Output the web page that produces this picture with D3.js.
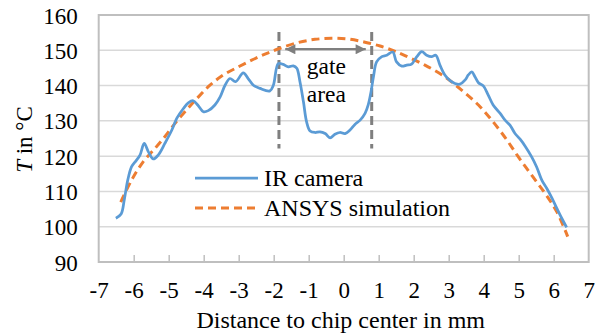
<!DOCTYPE html>
<html>
<head>
<meta charset="utf-8">
<script src="https://cdn.jsdelivr.net/npm/d3@7"></script>
<style>
  html, body { margin: 0; padding: 0; background: #fff; }
  svg { display: block; }
</style>
</head>
<body>
<svg id="chart" width="605" height="335"></svg>
<script>
// Measured temperature profile (IR camera) along the chip, mm vs °C
const irX = [-6.51, -6.36, -6.27, -6.17, -6.06, -5.94, -5.82, -5.70, -5.58, -5.44, -5.30, -5.11, -4.91, -4.77,
  -4.58, -4.44, -4.30, -4.17, -4.01, -3.87, -3.68, -3.53, -3.39, -3.25, -3.09, -2.87, -2.73, -2.58,
  -2.39, -2.11, -2.01, -1.87, -1.73, -1.58, -1.44, -1.34, -1.25, -1.15, -1.06, -0.96, -0.82, -0.68,
  -0.53, -0.39, -0.25, -0.11, 0.04, 0.18, 0.32, 0.47, 0.61, 0.70, 0.78, 0.85, 0.94, 1.09, 1.23,
  1.40, 1.51, 1.66, 1.80, 1.94, 2.09, 2.23, 2.37, 2.51, 2.63, 2.75, 2.89, 3.04, 3.18, 3.32, 3.47,
  3.56, 3.66, 3.75, 3.85, 3.99, 4.13, 4.27, 4.47, 4.61, 4.75, 4.89, 5.04, 5.18, 5.37, 5.51, 5.66,
  5.80, 5.94, 6.09, 6.23, 6.37];
const irT = [102.4, 103.6, 107.6, 113.2, 117.0, 118.6, 120.3, 123.6, 121.2, 119.2, 120.3, 123.6, 127.4, 130.7,
  133.5, 135.1, 135.7, 134.5, 132.6, 132.9, 134.5, 136.8, 140.1, 142.0, 141.1, 143.6, 142.0, 140.1,
  139.2, 138.5, 140.1, 146.2, 146.0, 145.3, 145.6, 144.9, 141.1, 135.4, 129.7, 127.1, 126.7, 126.9,
  126.4, 125.2, 126.2, 126.7, 126.4, 127.4, 129.0, 130.2, 132.1, 134.5, 138.2, 142.5, 146.7, 148.2, 148.6,
  149.5, 146.7, 145.5, 145.8, 146.1, 148.2, 149.6, 148.6, 148.2, 148.6, 145.8, 143.0, 141.4, 140.6, 140.4, 141.6,
  143.0, 143.9, 142.5, 140.8, 139.9, 137.3, 134.5, 132.1, 130.2, 128.8, 126.5, 124.8, 122.9, 119.8, 117.0, 113.2,
  110.9, 108.3, 105.2, 102.4, 99.8];

// Simulated temperature profile (ANSYS)
const simX = [-6.37, -6.06, -5.73, -5.39, -5.11, -4.82, -4.49, -4.15, -3.82, -3.44, -3.01, -2.63, -2.25,
  -1.84, -1.30, -0.82, -0.34, 0.13, 0.61, 1.04, 1.42, 1.75, 2.32, 2.89, 3.37, 3.85, 4.27, 4.66,
  4.99, 5.37, 5.75, 6.09, 6.40];
const simT = [107.0, 113.2, 118.4, 122.2, 125.5, 129.3, 133.1, 136.8, 140.1, 143.0, 145.3, 147.2, 148.9,
  150.5, 152.2, 153.1, 153.4, 153.2, 152.3, 151.2, 149.9, 148.5, 145.8, 142.5, 138.7, 134.5, 129.7, 124.6,
  119.8, 114.6, 109.5, 104.2, 97.2];

// Axis ticks and labels
const xTicks = [-7, -6, -5, -4, -3, -2, -1, 0, 1, 2, 3, 4, 5, 6, 7];
const yTicks = [90, 100, 110, 120, 130, 140, 150, 160];
const seriesNames = ["IR camera", "ANSYS simulation"];
const xTitle = "Distance to chip center in mm";

// Gate region: boundaries (mm), marker span (°C), arrow ends (mm) and level (°C)
const gateBounds = [-1.85, 0.80];
const gateSpan = [122.2, 155.2];
const gateArrow = [-1.67, 0.63];
const gateArrowT = 150.3;
const gateLabel = ["gate", "area"];

const serif = "Liberation Serif";
const tickSize = 23, labelSize = 24;
const svg = d3.select("#chart");
const plotL = 98.7, plotR = 588.7, plotT = 15, plotB = 262;

const x = d3.scaleLinear().domain([-7, 7]).range([plotL, plotR]);
const y = d3.scaleLinear().domain([90, 160]).range([plotB, plotT]);

// horizontal gridlines
svg.append("g")
  .selectAll("line")
  .data(yTicks.filter(d => d > 90 && d < 160))
  .join("line")
  .attr("x1", plotL).attr("x2", plotR)
  .attr("y1", d => y(d)).attr("y2", d => y(d))
  .attr("stroke", "#d9d9d9").attr("stroke-width", 1.5);

// plot frame
svg.append("rect")
  .attr("x", plotL).attr("y", plotT)
  .attr("width", plotR - plotL).attr("height", plotB - plotT)
  .attr("fill", "none").attr("stroke", "#bfbfbf").attr("stroke-width", 2);

// x axis: inward ticks, labels below
const xAxis = d3.axisBottom(x).tickValues(xTicks).tickSize(-7).tickPadding(0).tickFormat(d3.format("d"));
const gx = svg.append("g").attr("transform", `translate(0,${plotB})`).call(xAxis)
  .attr("font-family", serif).attr("font-size", tickSize);
gx.select(".domain").remove();
gx.selectAll(".tick line").attr("stroke", "#bfbfbf").attr("stroke-width", 1.5);
gx.selectAll(".tick").filter(d => d === -7 || d === 7).select("line").remove();
gx.selectAll(".tick text")
  .attr("y", 36).attr("dy", null)
  .attr("fill", "#000")
  .text(d => d < 0 ? "-" + Math.abs(d) : String(d));

// y axis labels
const yAxis = d3.axisLeft(y).tickValues(yTicks).tickSize(0).tickPadding(0).tickFormat(d3.format("d"));
const gy = svg.append("g").attr("transform", `translate(${plotL - 21},0)`).call(yAxis)
  .attr("font-family", serif).attr("font-size", tickSize);
gy.select(".domain").remove();
gy.selectAll(".tick text")
  .attr("dy", "0.35em")
  .attr("fill", "#000");

// axis titles
svg.append("text")
  .attr("x", (plotL + plotR) / 2 - 3).attr("y", 328)
  .attr("text-anchor", "middle")
  .attr("font-family", serif).attr("font-size", labelSize)
  .text(xTitle);

const yTitle = svg.append("text")
  .attr("transform", `translate(32,${(plotT + plotB) / 2 + 1}) rotate(-90)`)
  .attr("text-anchor", "middle")
  .attr("font-family", serif).attr("font-size", tickSize);
yTitle.append("tspan").attr("font-style", "italic").text("T");
yTitle.append("tspan").text(" in °C");

// series as [x, T] pairs
const simData = simX.map((v, i) => [v, simT[i]]);
const irData = irX.map((v, i) => [v, irT[i]]);
const line = d3.line().x(d => x(d[0])).y(d => y(d[1])).curve(d3.curveCatmullRom.alpha(0.5));

// gate boundary markers
svg.append("g")
  .selectAll("line")
  .data(gateBounds)
  .join("line")
  .attr("x1", d => x(d)).attr("x2", d => x(d))
  .attr("y1", y(gateSpan[1])).attr("y2", y(gateSpan[0]))
  .attr("stroke", "#7f7f7f").attr("stroke-width", 3)
  .attr("stroke-dasharray", "9,5");

// simulated curve
svg.append("path")
  .datum(simData)
  .attr("d", line)
  .attr("fill", "none")
  .attr("stroke", "#ed7d31").attr("stroke-width", 3)
  .attr("stroke-dasharray", "8,5");

// measured curve
svg.append("path")
  .datum(irData)
  .attr("d", line)
  .attr("fill", "none")
  .attr("stroke", "#5b9bd5").attr("stroke-width", 2.75)
  .attr("stroke-linejoin", "round");

// double-headed arrow across the gate
const defs = svg.append("defs");
defs.append("marker")
  .attr("id", "arrowHead")
  .attr("viewBox", "0 0 10 10")
  .attr("refX", 10).attr("refY", 5)
  .attr("markerWidth", 5).attr("markerHeight", 4.5)
  .attr("markerUnits", "strokeWidth")
  .attr("orient", "auto-start-reverse")
  .append("path")
  .attr("d", "M0,0 L10,5 L0,10 Z")
  .attr("fill", "#7f7f7f");

svg.append("line")
  .attr("x1", x(gateArrow[0])).attr("x2", x(gateArrow[1]))
  .attr("y1", y(gateArrowT)).attr("y2", y(gateArrowT))
  .attr("stroke", "#7f7f7f").attr("stroke-width", 2.25)
  .attr("marker-start", "url(#arrowHead)")
  .attr("marker-end", "url(#arrowHead)");

svg.append("g")
  .selectAll("text")
  .data(gateLabel)
  .join("text")
  .attr("x", x((gateBounds[0] + gateBounds[1]) / 2) + 1)
  .attr("y", (d, i) => 74 + i * 28)
  .attr("text-anchor", "middle")
  .attr("font-family", serif).attr("font-size", 23.5)
  .text(d => d);

// legend
const legend = svg.append("g");
const legendRows = [
  { name: seriesNames[0], color: "#5b9bd5", dash: null, width: 2.75 },
  { name: seriesNames[1], color: "#ed7d31", dash: "8,5", width: 3 }
];
legendRows.forEach((r, i) => {
  const ly = 178 + i * 30;
  legend.append("line")
    .attr("x1", 195).attr("x2", 258)
    .attr("y1", ly).attr("y2", ly)
    .attr("stroke", r.color).attr("stroke-width", r.width)
    .attr("stroke-dasharray", r.dash);
  legend.append("text")
    .attr("x", 264).attr("y", ly).attr("dy", "0.35em")
    .attr("font-family", serif).attr("font-size", labelSize)
    .text(r.name);
});
</script>
</body>
</html>
